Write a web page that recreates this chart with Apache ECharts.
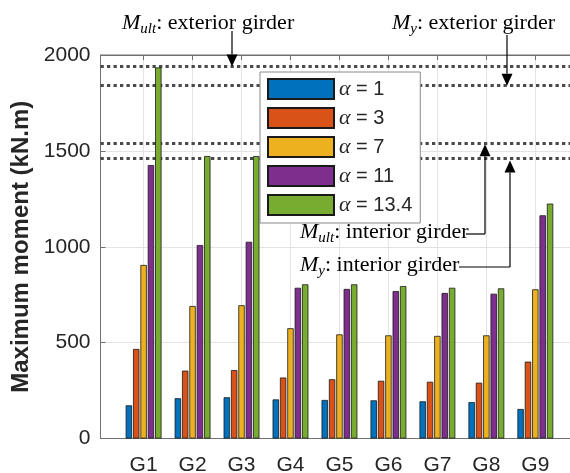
<!DOCTYPE html>
<html>
<head>
<meta charset="utf-8">
<script src="https://cdn.jsdelivr.net/npm/echarts@6/dist/echarts.min.js"></script>
<style>
  html, body { margin: 0; padding: 0; background: #fff; }
  #chart { width: 570px; height: 473px; }
</style>
</head>
<body>
<div id="chart"></div>
<script>
// Girder labels along the horizontal axis
const girders = ['G1', 'G2', 'G3', 'G4', 'G5', 'G6', 'G7', 'G8', 'G9'];

// Load-ratio cases shown in the legend
const alphas = ['1', '3', '7', '11', '13.4'];

// Maximum moment per girder (kN.m) for each alpha
const momentA1 = [173, 210, 215, 204, 201, 199, 194, 190, 154];
const momentA3 = [467, 354, 357, 318, 309, 301, 296, 291, 401];
const momentA7 = [905, 691, 695, 575, 543, 538, 535, 538, 778];
const momentA11 = [1426, 1009, 1026, 786, 780, 769, 759, 755, 1164];
const momentA134 = [1935, 1473, 1473, 804, 804, 795, 786, 783, 1225];

// Capacity levels (kN.m)
const mUltExterior = 1940;
const mYExterior = 1840;
const mUltInterior = 1540;
const mYInterior = 1460;

// Y-axis ticks
const yTicks = [0, 500, 1000, 1500, 2000];

const seriesValues = [momentA1, momentA3, momentA7, momentA11, momentA134];
const colors = ['#0072BD', '#D95319', '#EDB120', '#7E2F8E', '#77AC30'];
const sans = "'Liberation Sans', Arial, sans-serif";
const serif = "'Liberation Serif', 'Times New Roman', serif";
const textColor = '#262626';
const axisColor = '#707070';
const gridColor = '#e3e3e3';
const tickPositions = girders.map((g, i) => i + 1);

const chart = echarts.init(document.getElementById('chart'), null, { renderer: 'canvas' });

const series = seriesValues.map((vals, k) => ({
  name: 'α = ' + alphas[k],
  type: 'bar',
  xAxisIndex: 0,
  yAxisIndex: 0,
  data: vals.map((v, i) => [i + 1, v]),
  barWidth: 6.4,
  barGap: '15%',
  z: 2,
  itemStyle: { color: colors[k], borderColor: '#1a1a1a', borderWidth: 0.8 },
  emphasis: { disabled: true },
  animation: false
}));

// Dotted capacity lines
series[0].markLine = {
  silent: true,
  symbol: 'none',
  animation: false,
  z: 1,
  label: { show: false },
  lineStyle: { color: '#4a4a4a', width: 3, type: [3.3, 3.2], cap: 'butt' },
  data: [mUltExterior, mYExterior, mUltInterior, mYInterior].map(v => ({ yAxis: v }))
};

const xCommon = {
  type: 'value',
  min: 0.12,
  max: 10,
  axisLine: { show: true, lineStyle: { color: axisColor, width: 1 } },
  axisTick: { show: true, inside: true, length: 5, customValues: tickPositions, lineStyle: { color: axisColor } },
  splitLine: { show: false }
};

chart.setOption({
  animation: false,
  backgroundColor: '#ffffff',
  grid: {
    left: 100.5, top: 55, bottom: 34.5, right: -14.3,
    containLabel: false,
    outerBoundsMode: 'none',
    show: true, borderColor: axisColor, borderWidth: 1, backgroundColor: 'transparent'
  },
  legend: {
    orient: 'vertical',
    left: 260, top: 72,
    z: 50,
    padding: [6, 8, 7, 7],
    itemWidth: 66, itemHeight: 20, itemGap: 7, itemTextGap: 6,
    icon: 'rect',
    backgroundColor: '#ffffff',
    borderColor: '#8a8a8a', borderWidth: 1,
    selectedMode: false,
    formatter: name => '{a|α}{b| = ' + name.split('= ')[1] + '}',
    textStyle: {
      color: textColor, fontFamily: sans, fontSize: 20, lineHeight: 22,
      rich: {
        a: { fontFamily: serif, fontStyle: 'italic', fontSize: 22, color: textColor, lineHeight: 22 },
        b: { fontFamily: sans, fontSize: 20, color: textColor, lineHeight: 22 }
      }
    }
  },
  xAxis: [
    Object.assign({}, xCommon, {
      position: 'bottom',
      axisLabel: {
        show: true, customValues: tickPositions, margin: 16,
        color: textColor, fontFamily: sans, fontSize: 21,
        formatter: v => girders[Math.round(v) - 1] || ''
      },
      splitLine: { show: true, lineStyle: { color: gridColor, width: 1 } }
    }),
    Object.assign({}, xCommon, {
      position: 'top',
      axisLabel: { show: false }
    })
  ],
  yAxis: {
    type: 'value',
    min: yTicks[0], max: yTicks[yTicks.length - 1], interval: 500,
    name: 'Maximum moment (kN.m)',
    nameLocation: 'middle',
    nameGap: 64,
    nameTextStyle: { fontFamily: sans, fontSize: 24, fontWeight: 'bold', color: textColor },
    axisLine: { show: true, lineStyle: { color: axisColor, width: 1 } },
    axisTick: { show: true, inside: true, length: 5, lineStyle: { color: axisColor } },
    axisLabel: { color: textColor, fontFamily: sans, fontSize: 21, margin: 10, formatter: v => String(v) },
    splitLine: { show: true, lineStyle: { color: gridColor, width: 1 } }
  },
  series: series
});

// Annotation labels with leader arrows, anchored to the capacity lines
function richLabel(sub, rest) {
  return '{m|M}{s|' + sub + '}{t|: ' + rest + '}';
}
const labelRich = {
  m: { fontFamily: serif, fontStyle: 'italic', fontSize: 22, lineHeight: 28, fill: '#000' },
  s: { fontFamily: serif, fontStyle: 'italic', fontSize: 15, lineHeight: 28, verticalAlign: 'bottom', fill: '#000' },
  t: { fontFamily: serif, fontSize: 22, lineHeight: 28, fill: '#000' }
};

function px(x, y) {
  return chart.convertToPixel({ gridIndex: 0 }, [x, y]);
}

function arrow(x, yFrom, yTip, dir) {
  // dir = 1: pointing down, -1: pointing up
  const head = 12, half = 5.5;
  const base = yTip - dir * head;
  return [
    { type: 'polyline', shape: { points: [[x, yFrom], [x, base]] }, style: { stroke: '#000', lineWidth: 1.2, fill: null }, silent: true, z: 100 },
    { type: 'polygon', shape: { points: [[x - half, base], [x + half, base], [x, yTip]] }, style: { fill: '#000' }, silent: true, z: 100 }
  ];
}

const yUltExt = px(1, mUltExterior)[1];
const yYExt = px(1, mYExterior)[1];
const yUltInt = px(1, mUltInterior)[1];
const yYInt = px(1, mYInterior)[1];

const graphics = [
  { type: 'text', x: 122, y: 23, silent: true, z: 100,
    style: { text: richLabel('ult', 'exterior girder'), rich: labelRich, verticalAlign: 'middle', align: 'left' } },
  { type: 'text', x: 392, y: 23, silent: true, z: 100,
    style: { text: richLabel('y', 'exterior girder'), rich: labelRich, verticalAlign: 'middle', align: 'left' } },
  { type: 'text', x: 300, y: 232, silent: true, z: 100,
    style: { text: richLabel('ult', 'interior girder'), rich: labelRich, verticalAlign: 'middle', align: 'left' } },
  { type: 'text', x: 300, y: 265, silent: true, z: 100,
    style: { text: richLabel('y', 'interior girder'), rich: labelRich, verticalAlign: 'middle', align: 'left' } },
  ...arrow(232, 31, yUltExt, 1),
  ...arrow(507, 35, yYExt, 1),
  { type: 'polyline', shape: { points: [[466, 234], [485, 234]] }, style: { stroke: '#000', lineWidth: 1.2, fill: null }, silent: true, z: 100 },
  ...arrow(485, 234, yUltInt + 1, -1),
  { type: 'polyline', shape: { points: [[459, 267], [510, 267]] }, style: { stroke: '#000', lineWidth: 1.2, fill: null }, silent: true, z: 100 },
  ...arrow(510, 267, yYInt + 2, -1)
];

chart.setOption({ graphic: graphics });
</script>
</body>
</html>
